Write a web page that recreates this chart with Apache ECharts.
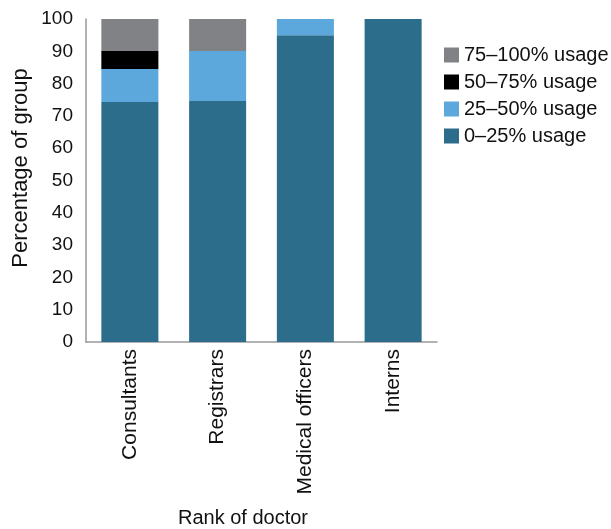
<!DOCTYPE html>
<html><head><meta charset="utf-8">
<script src="https://cdn.jsdelivr.net/npm/echarts@6/dist/echarts.min.js"></script>
<style>html,body{margin:0;padding:0;background:#fff}#c{width:611px;height:529px}</style>
</head><body><div id="c"></div>
<script>
const categories = ['Consultants', 'Registrars', 'Medical officers', 'Interns'];
const usage0to25 = [74.3, 74.6, 95.0, 100];
const usage25to50 = [10.2, 15.5, 5.0, 0];
const usage50to75 = [5.6, 0, 0, 0];
const usage75to100 = [9.9, 9.9, 0, 0];
const seriesNames = ['0–25% usage', '25–50% usage', '50–75% usage', '75–100% usage'];
const seriesColors = ['#2D6D8C', '#5CA7DB', '#000000', '#818285'];
const yTicks = [0, 100, 10];

const values = [usage0to25, usage25to50, usage50to75, usage75to100];
const font = 'Liberation Sans, Arial, sans-serif';
const chart = echarts.init(document.getElementById('c'));
chart.setOption({
  animation: false,
  grid: { left: 86, right: 174, top: 19, bottom: 187 },
  legend: {
    orient: 'vertical', left: 439, top: 40,
    data: seriesNames.slice().reverse(),
    itemWidth: 15, itemHeight: 15, itemGap: 7, icon: 'rect',
    textStyle: { fontFamily: font, fontSize: 20, lineHeight: 20, color: '#111' }
  },
  graphic: [{
    type: 'text', x: 243, y: 518,
    style: { text: 'Rank of doctor', font: '20px ' + font, fill: '#111', textAlign: 'center', textVerticalAlign: 'middle' }
  }, {
    type: 'text', x: 21, y: 168, rotation: Math.PI / 2,
    style: { text: 'Percentage of group', font: '22px ' + font, fill: '#111', textAlign: 'center', textVerticalAlign: 'middle' }
  }],
  xAxis: {
    type: 'category', data: categories,
    axisLine: { lineStyle: { color: '#999', width: 1.5 } },
    axisTick: { show: false },
    axisLabel: { rotate: 90, fontFamily: font, fontSize: 21, color: '#111', margin: 7, interval: 0 }
  },
  yAxis: {
    type: 'value', min: yTicks[0], max: yTicks[1], interval: yTicks[2],
    axisLine: { show: true, lineStyle: { color: '#999', width: 1.5 } },
    axisTick: { show: false },
    splitLine: { show: false },
    axisLabel: { fontFamily: font, fontSize: 19, color: '#111', margin: 13 }
  },
  series: seriesNames.map((n, i) => ({
    name: n, type: 'bar', stack: 'total', data: values[i],
    barWidth: '65%', itemStyle: { color: seriesColors[i] }
  }))
});
</script></body></html>
